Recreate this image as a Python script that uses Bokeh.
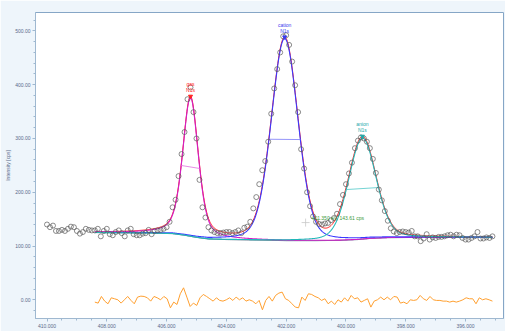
import numpy as np
from bokeh.plotting import figure
from bokeh.models import Range1d, SingleIntervalTicker, NumeralTickFormatter
from bokeh.core.properties import value
from bokeh.embed import file_html
from bokeh.resources import INLINE

# ---------------- data ----------------
# measured N1s spectrum: binding energy grid start / step and counts
be_start = 410.0
be_step = 0.1
counts = [140, 135, 138, 128, 128, 130, 128, 132, 136, 135,
          128, 123, 126, 132, 130, 129, 129, 132, 118, 128,
          132, 122, 120, 126, 129, 124, 118, 129, 132, 122,
          120, 120, 123, 124, 130, 122, 128, 129, 130, 132,
          135, 145, 172, 186, 230, 271, 312, 373, 395, 349,
          300, 223, 172, 153, 135, 129, 126, 124, 124, 125,
          126, 126, 124, 126, 129, 124, 134, 136, 145, 170,
          191, 215, 241, 258, 294, 346, 393, 429, 460, 490,
          492, 474, 443, 399, 349, 280, 244, 200, 174, 155,
          145, 141, 140, 142, 143, 148, 152, 160, 178, 195,
          215, 235, 255, 282, 296, 302, 300, 294, 282, 262,
          236, 205, 185, 165, 147, 133, 127, 124, 126, 127,
          126, 125, 128, 118, 118, 109, 114, 122, 112, 116,
          115, 117, 117, 118, 120, 121, 118, 121, 120, 115,
          112, 112, 115, 118, 126, 114, 114, 116, 115, 118]

# fitted components
peak_labels = ["gas\nN1s", "cation\nN1s", "anion\nN1s"]
peak_centers = [405.2, 402.05, 399.45]
peak_heights = [258, 376, 188]
peak_fwhm = [0.62, 1.05, 1.08]
peak_lorentz = [0.45, 0.2, 0.2]
peak_colors = ["#d21fc8", "#3a3aff", "#22b8b8"]
fwhm_colors = ["#e070e0", "#7878f8", "#50c8c8"]
label_colors = ["#ff2020", "#3a3aee", "#20a8a8"]

# background (binding energy, counts)
bg_be = [408.4, 407.5, 406.5, 405.8, 405.4, 405.0, 404.6, 404.0, 403.0,
         402.0, 401.0, 400.2, 399.6, 399.2, 398.6, 397.5, 395.1]
bg_counts = [125, 124.5, 124, 123, 120, 116, 113, 112, 111,
             110, 110, 110.5, 112, 114, 115.5, 116, 116]

fit_start, fit_end = 408.4, 395.1

# residual of the fit (cps)
residual = [-4.3, -6.2, 6.2, -2.5, -7.4, 3.7, 1.9, 0, -6.2, 0,
            6.2, -1.2, -7.4, 5.0, 6.8, 6.2, 3.7, -2.5, 6.2, 3.7,
            0, 6.2, 1.9, -14.9, -4.3, -8.7, 11.2, 22.3, 5.0, -12.4,
            -6.2, -10.5, 3.7, 9.9, 6.2, 1.9, -2.5, 3.7, -1.2, -2.5,
            0, 3.7, -1.2, 5.0, 0, 3.7, -2.5, 0, -2.5, -7.4,
            -1.2, -18.6, -1.2, 6.2, -2.5, 8.1, 12.4, 14.3, 1.9, -1.2,
            -7.4, -13.6, -14.9, 5.0, -1.2, 11.2, 9.9, 6.2, 3.7, -1.2,
            1.9, -7.4, -2.5, -8.7, 0, -4.3, 3.7, -2.5, 8.1, 1.9,
            3.7, -4.3, -1.2, 1.9, -13.6, -2.5, 0, 5.0, 0, 5.0,
            0, 6.2, 5.0, -6.2, -4.3, -7.4, 0, -1.2, 0, 8.1,
            1.9, -1.2, 6.2, 0, -1.2, -1.2, -2.5, -2.5, -4.3, -2.5,
            -4.3, -2.5, 0, 3.7, 1.9, 1.9, -7.4, 3.7, 0, 1.9,
            0, -2.5]

cursor_be, cursor_cps = 401.350, 143.61
cursor_text = "401.350 eV, 143.61 cps"

# ---------------- figure ----------------
FONT = "Liberation Sans"
TXT = "#5a6a8a"

p = figure(width=505, height=331, output_backend="svg", toolbar_location=None,
           x_range=Range1d(410.385, 394.73), y_range=Range1d(-34.8, 534.3),
           min_border_left=35, min_border_top=12, min_border_right=2, min_border_bottom=13)
p.border_fill_color = "#eef5fb"
p.background_fill_color = "white"
p.outline_line_color = "#86a6c6"
p.outline_line_width = 1
p.xgrid.visible = False
p.ygrid.visible = False

p.xaxis.ticker = SingleIntervalTicker(interval=2, num_minor_ticks=4)
p.yaxis.ticker = SingleIntervalTicker(interval=100, num_minor_ticks=5)
p.xaxis.formatter = NumeralTickFormatter(format="0.000")
p.yaxis.formatter = NumeralTickFormatter(format="0.00")
for ax in (p.xaxis, p.yaxis):
    ax.axis_line_color = "#9fb8d0"
    ax.major_tick_line_color = "#9fb8d0"
    ax.minor_tick_line_color = "#9fb8d0"
    ax.major_tick_out = 3
    ax.major_tick_in = 0
    ax.minor_tick_out = 2
    ax.minor_tick_in = 0
    ax.major_label_text_font = FONT
    ax.major_label_text_font_size = "5px"
    ax.major_label_text_color = TXT
    ax.major_label_standoff = 2
p.yaxis.axis_label = "Intensity [cps]"
p.yaxis.axis_label_text_font = FONT
p.yaxis.axis_label_text_font_size = "5px"
p.yaxis.axis_label_text_font_style = "normal"
p.yaxis.axis_label_text_color = TXT
p.yaxis.axis_label_standoff = 1

# ---------------- model curves ----------------
def gl(x, c, h, w, m):
    t = (x - c) / w
    return h * ((1 - m) * np.exp(-4 * np.log(2) * t ** 2) + m / (1 + 4 * t ** 2))

x_fit = np.arange(fit_start, fit_end - 1e-9, -0.02)
bg_fit = np.interp(x_fit, bg_be[::-1], bg_counts[::-1])
peaks = [gl(x_fit, c, h, w, m) for c, h, w, m in
         zip(peak_centers, peak_heights, peak_fwhm, peak_lorentz)]
envelope = bg_fit + sum(peaks)

be = [be_start - be_step * i for i in range(len(counts))]

# background
p.line(x_fit, bg_fit, line_color="#2c4f6a", line_width=0.9)
# envelope
p.line(x_fit, envelope, line_color="#ff1a1a", line_width=1.0)
# components
for pk, col in zip(peaks, peak_colors):
    p.line(x_fit, bg_fit + pk, line_color=col, line_width=1.1)

# FWHM bars
for c, h, w, col in zip(peak_centers, peak_heights, peak_fwhm, fwhm_colors):
    xa, xb = c + w / 2, c - w / 2
    ya = np.interp(xa, bg_be[::-1], bg_counts[::-1]) + h / 2
    yb = np.interp(xb, bg_be[::-1], bg_counts[::-1]) + h / 2
    p.line([xa, xb], [ya, yb], line_color=col, line_width=0.8)

# data points
p.scatter(be, counts, marker="circle", size=5, fill_color=None,
          line_color="#5a5a5a", line_width=0.7)

# peak labels and markers
for c, h, lab, col in zip(peak_centers, peak_heights, peak_labels, label_colors):
    top = float(np.interp(c, x_fit[::-1], envelope[::-1]))
    p.scatter([c], [top], marker="inverted_triangle", size=4, color=col)
    p.text([c], [top], text=[lab], text_color=col, text_font=value(FONT),
           text_font_size="5px", text_align="center", text_baseline="bottom",
           y_offset=-3, text_line_height=1.0)

# residual
res_x = np.linspace(fit_start, fit_end, len(residual))
p.line(res_x, residual, line_color="#ffa030", line_width=1)

# cursor readout
p.scatter([cursor_be], [cursor_cps], marker="cross", size=8, line_color="#c8c8c8", line_width=0.8)
p.text([cursor_be], [cursor_cps], text=[cursor_text], text_color="#3a9a3a",
       text_font=value(FONT), text_font_size="5px", text_align="left",
       text_baseline="middle", x_offset=6, y_offset=-5)

open("out.html", "w").write(file_html(p, INLINE))
